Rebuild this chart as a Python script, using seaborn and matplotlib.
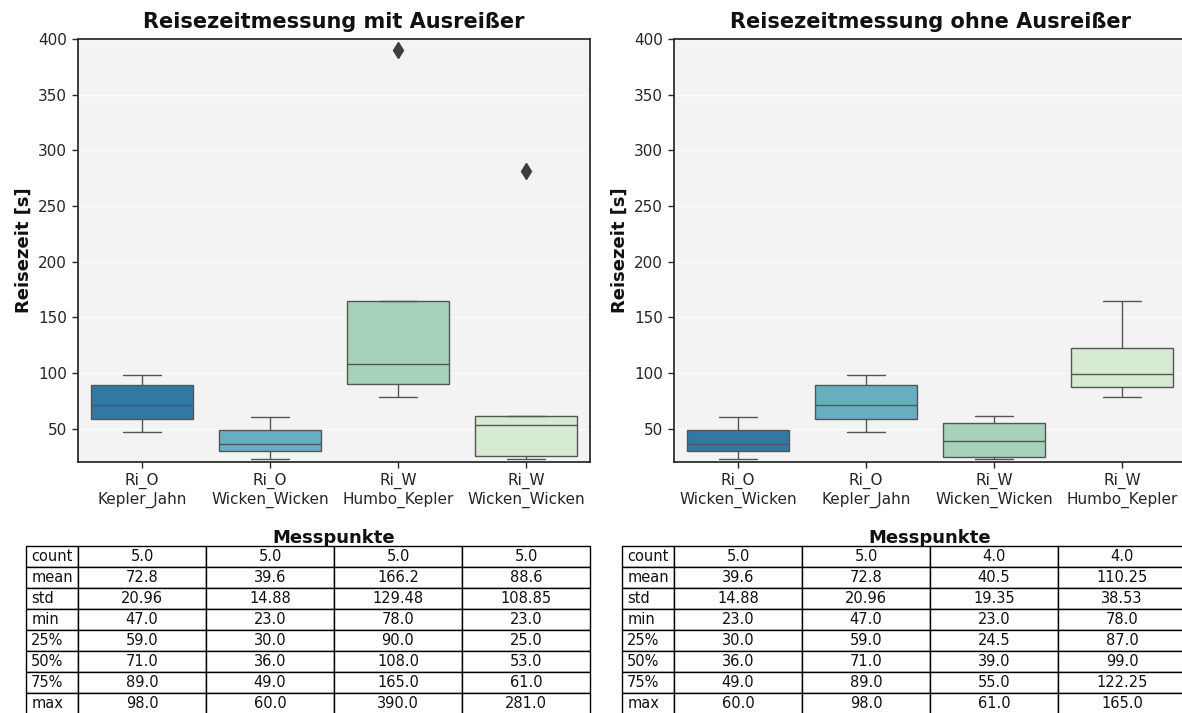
import matplotlib
matplotlib.use("Agg")
import matplotlib.pyplot as plt
import numpy as np
import pandas as pd
import seaborn as sns
from matplotlib.table import Table

# Travel times [s] per measuring section (with outliers)
ri_o_kepler_jahn = [47, 59, 71, 89, 98]
ri_o_wicken_wicken = [23, 30, 36, 49, 60]
ri_w_humbo_kepler = [78, 90, 108, 165, 390]
ri_w_wicken_wicken = [23, 25, 53, 61, 281]

# Same sections after removing the outliers
ri_w_humbo_kepler_clean = [78, 90, 108, 165]
ri_w_wicken_wicken_clean = [23, 25, 53, 61]

labels_with = ["Ri_O\nKepler_Jahn", "Ri_O\nWicken_Wicken",
               "Ri_W\nHumbo_Kepler", "Ri_W\nWicken_Wicken"]
series_with = [ri_o_kepler_jahn, ri_o_wicken_wicken,
               ri_w_humbo_kepler, ri_w_wicken_wicken]

labels_without = ["Ri_O\nWicken_Wicken", "Ri_O\nKepler_Jahn",
                  "Ri_W\nWicken_Wicken", "Ri_W\nHumbo_Kepler"]
series_without = [ri_o_wicken_wicken, ri_o_kepler_jahn,
                  ri_w_wicken_wicken_clean, ri_w_humbo_kepler_clean]

titles = ["Reisezeitmessung mit Ausreißer", "Reisezeitmessung ohne Ausreißer"]
y_ticks = [50, 100, 150, 200, 250, 300, 350, 400]

sns.set_style("ticks", {
    "axes.facecolor": "#f3f3f3",
    "axes.edgecolor": "#262626",
    "axes.grid": True,
    "grid.color": "#fbfbfb",
    "xtick.color": "#262626",
    "ytick.color": "#262626",
    "text.color": "#111111",
    "axes.labelcolor": "#111111",
})
plt.rcParams["font.family"] = ["DejaVu Sans"]

palette = sns.color_palette("GnBu_r", 4)
line_gray = "#555555"

W, H = 1182, 713
fig = plt.figure(figsize=(W / 100, H / 100), dpi=100)
ax_l = fig.add_axes([78 / W, (H - 462) / H, 512 / W, 423 / H])
ax_r = fig.add_axes([674 / W, (H - 462) / H, 512 / W, 423 / H])


def long_frame(labels, series):
    rows = []
    for lab, vals in zip(labels, series):
        for v in vals:
            rows.append({"Messpunkt": lab, "Reisezeit": v})
    return pd.DataFrame(rows)


def stats_table(ax, labels, series):
    desc = pd.DataFrame({lab: pd.Series(vals, dtype=float)
                         for lab, vals in zip(labels, series)}).describe().round(2)
    n_rows = len(desc.index)
    row_h = 21 / 423
    top = -84 / 423
    tbl = Table(ax, bbox=[0, top - n_rows * row_h, 1, n_rows * row_h])
    label_w = 52 / 512
    col_w = 1 / len(labels)
    for r, stat in enumerate(desc.index):
        tbl.add_cell(r, -1, width=label_w, height=row_h, text=stat, loc="left",
                     facecolor="white", edgecolor="black")
        for c, lab in enumerate(labels):
            tbl.add_cell(r, c, width=col_w, height=row_h,
                         text=str(desc.loc[stat, lab]), loc="center",
                         facecolor="white", edgecolor="black")
    tbl.auto_set_font_size(False)
    tbl.set_fontsize(10.5)
    for cell in tbl.get_celld().values():
        cell.set_linewidth(1.0)
    ax.add_table(tbl)


for ax, labels, series, title in [(ax_l, labels_with, series_with, titles[0]),
                                  (ax_r, labels_without, series_without, titles[1])]:
    df = long_frame(labels, series)
    sns.boxplot(data=df, x="Messpunkt", y="Reisezeit", hue="Messpunkt",
                order=labels, hue_order=labels, palette=palette, legend=False,
                width=0.8, linewidth=1.0, linecolor=line_gray, ax=ax,
                capwidths=0.3,
                flierprops={"marker": "d", "markersize": 8,
                            "markerfacecolor": "#3d3d3d",
                            "markeredgecolor": "#3d3d3d"})
    ax.set_ylim(20, 400)
    ax.set_yticks(y_ticks)
    ax.grid(axis="x", visible=False)
    ax.grid(axis="y", color="#fbfbfb", linewidth=1.0)
    for s in ax.spines.values():
        s.set_visible(True)
        s.set_linewidth(1.25)
    ax.tick_params(axis="both", length=4.5, width=1.0, labelsize=11)
    ax.set_title(title, fontsize=15, fontweight="bold", pad=8)
    ax.set_ylabel("Reisezeit [s]", fontsize=13, fontweight="bold")
    ax.set_xlabel("Messpunkte", fontsize=13, fontweight="bold", labelpad=15)
    stats_table(ax, labels, series)

fig.savefig("out.png", dpi=100)
